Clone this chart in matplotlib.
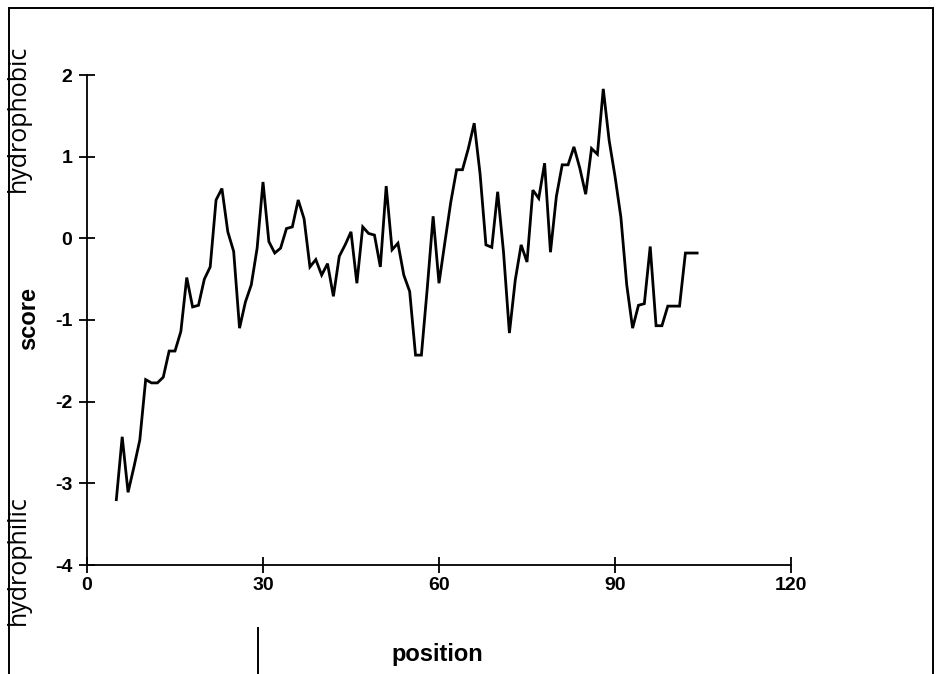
import matplotlib
matplotlib.use("Agg")
import matplotlib.pyplot as plt
from matplotlib.lines import Line2D
from matplotlib.patches import Rectangle

positions = list(range(5, 105))
scores = [
    -3.20, -2.43, -3.11, -2.80, -2.47, -1.73, -1.77, -1.77, -1.70, -1.38,   # 5-14
    -1.38, -1.14, -0.48, -0.84, -0.82, -0.50, -0.35, 0.47, 0.61, 0.08,      # 15-24
    -0.16, -1.10, -0.78, -0.57, -0.12, 0.69, -0.04, -0.18, -0.12, 0.12,     # 25-34
    0.14, 0.47, 0.24, -0.35, -0.26, -0.45, -0.31, -0.71, -0.22, -0.08,      # 35-44
    0.08, -0.55, 0.14, 0.06, 0.04, -0.35, 0.64, -0.14, -0.06, -0.45,        # 45-54
    -0.65, -1.43, -1.43, -0.61, 0.27, -0.55, -0.05, 0.44, 0.84, 0.84,       # 55-64
    1.10, 1.41, 0.79, -0.08, -0.11, 0.57, -0.17, -1.16, -0.51, -0.08,       # 65-74
    -0.29, 0.59, 0.49, 0.92, -0.17, 0.51, 0.90, 0.90, 1.12, 0.86,           # 75-84
    0.54, 1.10, 1.03, 1.83, 1.20, 0.76, 0.26, -0.57, -1.10, -0.82,          # 85-94
    -0.80, -0.10, -1.07, -1.07, -0.83, -0.83, -0.83, -0.18, -0.18, -0.18,   # 95-104
]
xticks = [0, 30, 60, 90, 120]
yticks = [-4, -3, -2, -1, 0, 1, 2]

W, H = 940, 674
fig = plt.figure(figsize=(W / 100, H / 100), dpi=100)
ax = fig.add_axes([87 / W, 1 - 565 / H, (791 - 87) / W, (565 - 75) / H])

ax.plot(positions, scores, color="black", lw=2.0, solid_joinstyle="miter")
ax.set_xlim(0, 120)
ax.set_ylim(-4, 2)
ax.set_xticks(xticks)
ax.set_yticks(yticks)
for s in ["top", "right"]:
    ax.spines[s].set_visible(False)
for s in ["left", "bottom"]:
    ax.spines[s].set_linewidth(1.3)
ax.tick_params(direction="inout", length=11, width=1.3, pad=3)
ax.tick_params(axis="y", pad=5)
tick_font = dict(family="Liberation Sans", weight="bold", size=14)
ax.set_xticklabels([str(v) for v in xticks], **tick_font)
ax.set_yticklabels([str(v) for v in yticks], **tick_font)

fig.text(437 / W, 1 - 655 / H, "position", ha="center", va="center",
         family="Liberation Sans", weight="bold", size=17)
fig.text(29 / W, 1 - 318 / H, "score", ha="center", va="center", rotation=90,
         family="Liberation Sans", weight="bold", size=17)
fig.text(18 / W, 1 - 118 / H, "hydrophobic", ha="center", va="center", rotation=90,
         family="Open Sans", size=18)
fig.text(18 / W, 1 - 560 / H, "hydrophilic", ha="center", va="center", rotation=90,
         family="Open Sans", size=18)

# outer frame
fig.add_artist(Rectangle((9 / W, -0.05), (933 - 9) / W, 1 - 8 / H + 0.05,
                         transform=fig.transFigure, fill=False, edgecolor="black", lw=1.4))
fig.add_artist(Line2D([258 / W, 258 / W], [0, 1 - 628 / H], transform=fig.transFigure,
                      color="black", lw=1.4))

fig.savefig("out.png", dpi=100)
